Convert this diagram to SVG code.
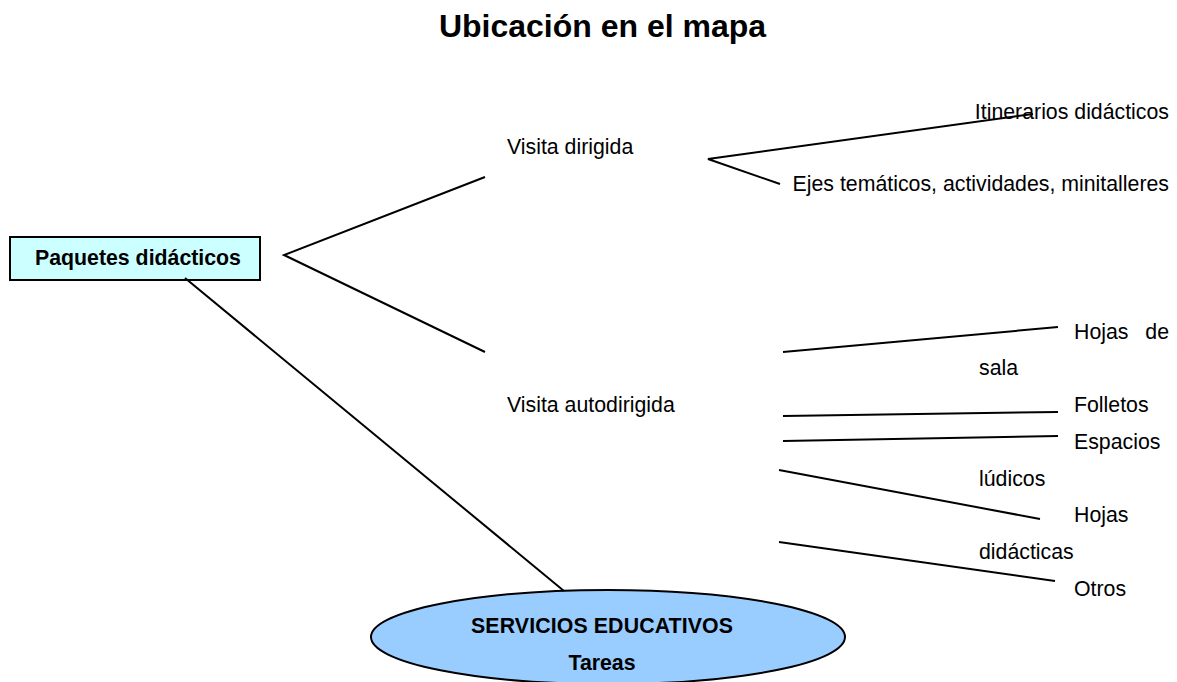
<svg xmlns="http://www.w3.org/2000/svg" width="1177" height="682" viewBox="0 0 1177 682">
<style>
text{font-family:"Liberation Sans",Arial,sans-serif;font-size:21.3px;fill:#000}
.b{font-weight:bold}
.l{fill:none;stroke:#000;stroke-width:2}
</style>
<rect width="1177" height="682" fill="#fff"/>
<text id="title" x="602.500" y="37" text-anchor="middle" class="b" style="font-size:32px">Ubicación en el mapa</text>
<g id="node-paquetes">
<rect x="10" y="237" width="250" height="43" fill="#ccffff" stroke="#000" stroke-width="2"/>
<text x="138" y="265" text-anchor="middle" class="b">Paquetes didácticos</text>
</g>
<g id="node-servicios">
<ellipse cx="608" cy="637" rx="237" ry="47" fill="#99ccff" stroke="#000" stroke-width="2"/>
<text x="602" y="633" text-anchor="middle" class="b" textLength="262">SERVICIOS EDUCATIVOS</text>
<text x="602" y="670" text-anchor="middle" class="b">Tareas</text>
</g>
<g id="node-visita-dirigida"><text x="507" y="154">Visita dirigida</text></g>
<g id="node-visita-autodirigida"><text x="507" y="412">Visita autodirigida</text></g>
<g id="node-itinerarios"><text x="1169" y="119" text-anchor="end">Itinerarios didácticos</text></g>
<g id="node-ejes"><text x="1169" y="191" text-anchor="end">Ejes temáticos, actividades, minitalleres</text></g>
<g id="node-hojas-sala"><text x="1074" y="339">Hojas</text><text x="1169" y="339" text-anchor="end">de</text><text x="979" y="375">sala</text></g>
<g id="node-folletos"><text x="1074" y="412">Folletos</text></g>
<g id="node-espacios"><text x="1074" y="449">Espacios</text><text x="979" y="486">lúdicos</text></g>
<g id="node-hojas-didacticas"><text x="1074" y="522">Hojas</text><text x="979" y="559">didácticas</text></g>
<g id="node-otros"><text x="1074" y="596">Otros</text></g>
<g id="connectors">
<path class="l" d="M485 177L284 255L485 352"/>
<path class="l" d="M1033 114L708 159L780 184"/>
<path class="l" d="M783 352L1058 327"/>
<path class="l" d="M783 416L1058 412"/>
<path class="l" d="M783 441L1058 436"/>
<path class="l" d="M779 470L1040 519"/>
<path class="l" d="M779 542L1055 581"/>
<path class="l" d="M185 278L564 591"/>
</g>
</svg>
